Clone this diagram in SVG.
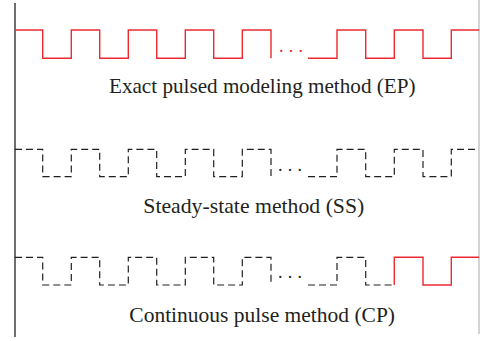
<svg xmlns="http://www.w3.org/2000/svg" width="480" height="341" viewBox="0 0 480 341">
  <style>
    .axis { stroke: #231f20; stroke-width: 1.3; fill: none; }
    .frame { stroke: #b8b8b8; stroke-width: 1.2; fill: none; }
    .pulse { stroke: #ec2a30; stroke-width: 1.4; fill: none; }
    .dash { stroke: #231f20; stroke-width: 1.2; fill: none; stroke-dasharray: 7 4; }
    .label { font-family: "Liberation Serif", "Times New Roman", serif; font-size: 21px; fill: #231f20; }
    .dots { font-family: "Liberation Serif", "Times New Roman", serif; font-size: 18px; letter-spacing: 5.2px; }
  </style>
  <rect width="480" height="341" fill="#ffffff"/>

  <g id="axes">
    <line class="axis" x1="15" y1="3" x2="15" y2="337"/>
    <line class="frame" x1="479" y1="0" x2="479" y2="334"/>
  </g>

  <!-- Exact pulsed waveform -->
  <g id="ep">
    <polyline class="pulse" points="15,30 42.7,30 42.7,58.3 71.3,58.3 71.3,30 99.7,30 99.7,58.3 128.3,58.3 128.3,30 156.7,30 156.7,58.3 185.3,58.3 185.3,30 213.7,30 213.7,58.3 242.3,58.3 242.3,30 271,30 271,58.3"/>
    <polyline class="pulse" points="308,58.3 337,58.3 337,30 365.7,30 365.7,58.3 394.3,58.3 394.3,30 423,30 423,58.3 451.3,58.3 451.3,30 479,30"/>
    <text class="dots" x="279" y="52" fill="#ec2a30">...</text>
    <text class="label" x="109" y="93" textLength="306.5" lengthAdjust="spacingAndGlyphs">Exact pulsed modeling method (EP)</text>
  </g>

  <!-- Steady-state waveform -->
  <g id="ss">
    <polyline class="dash" points="15,149.3 42.7,149.3 42.7,176.7 71.3,176.7 71.3,149.3 99.7,149.3 99.7,176.7 128.3,176.7 128.3,149.3 156.7,149.3 156.7,176.7 185.3,176.7 185.3,149.3 213.7,149.3 213.7,176.7 242.3,176.7 242.3,149.3 271,149.3 271,176.7"/>
    <polyline class="dash" points="308,176.7 337,176.7 337,149.3 365.7,149.3 365.7,176.7 394.3,176.7 394.3,149.3 423,149.3 423,176.7 451.3,176.7 451.3,149.3 479,149.3"/>
    <text class="dots" x="278" y="171" fill="#231f20">...</text>
    <text class="label" x="143.3" y="213.3" textLength="221" lengthAdjust="spacingAndGlyphs">Steady-state method (SS)</text>
  </g>

  <!-- Continuous pulse waveform -->
  <g id="cp">
    <polyline class="dash" points="15,257.3 42.7,257.3 42.7,285 71.3,285 71.3,257.3 99.7,257.3 99.7,285 128.3,285 128.3,257.3 156.7,257.3 156.7,285 185.3,285 185.3,257.3 213.7,257.3 213.7,285 242.3,285 242.3,257.3 271,257.3 271,285"/>
    <polyline class="dash" points="308,285 337,285 337,257.3 365.7,257.3 365.7,285 394.3,285"/>
    <polyline class="pulse" points="394.3,285 394.3,257.3 423,257.3 423,285 451.3,285 451.3,257.3 479,257.3"/>
    <text class="dots" x="278" y="278" fill="#231f20">...</text>
    <text class="label" x="129.3" y="321.7" textLength="265.7" lengthAdjust="spacingAndGlyphs">Continuous pulse method (CP)</text>
  </g>
</svg>
